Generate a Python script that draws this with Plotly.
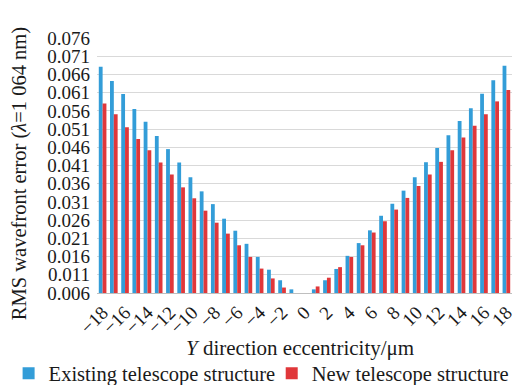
import plotly.graph_objects as go

eccentricity = list(range(-18, 19))
existing = [0.0681, 0.0642, 0.0606, 0.0565, 0.0530, 0.0491, 0.0455, 0.0418, 0.0378,
            0.0339, 0.0304, 0.0264, 0.0231, 0.0195, 0.0159, 0.0124, 0.0095, 0.0070,
            0.0060,
            0.0070, 0.0095, 0.0126, 0.0162, 0.0197, 0.0232, 0.0272, 0.0305, 0.0341,
            0.0378, 0.0419, 0.0458, 0.0493, 0.0532, 0.0567, 0.0607, 0.0644, 0.0684]
new = [0.0580, 0.0551, 0.0515, 0.0483, 0.0452, 0.0418, 0.0385, 0.0350, 0.0320,
       0.0286, 0.0253, 0.0223, 0.0191, 0.0159, 0.0127, 0.0100, 0.0075, 0.0060,
       0.0060,
       0.0078, 0.0102, 0.0131, 0.0159, 0.0191, 0.0226, 0.0257, 0.0289, 0.0321,
       0.0354, 0.0385, 0.0420, 0.0452, 0.0487, 0.0519, 0.0551, 0.0586, 0.0617]

x_tickvals = list(range(-18, 19, 2))
x_ticktext = [("\u2212" + str(-v)) if v < 0 else str(v) for v in x_tickvals]
y_tickvals = [0.006, 0.011, 0.016, 0.021, 0.026, 0.031, 0.036, 0.041, 0.046,
              0.051, 0.056, 0.061, 0.066, 0.071, 0.076]
y_ticktext = ["%.3f" % v for v in y_tickvals]

FONT = "Liberation Serif, Times New Roman, serif"
BLUE = "#339dd8"
RED = "#e0373a"
TXT = "#1a1a1a"

fig = go.Figure()
fig.add_trace(go.Bar(x=eccentricity, y=existing, name="Existing telescope structure",
                     marker=dict(color=BLUE, line=dict(width=0)), legend="legend"))
fig.add_trace(go.Bar(x=eccentricity, y=new, name="New telescope structure",
                     marker=dict(color=RED, line=dict(width=0)), legend="legend2"))

legend_common = dict(orientation="h", xanchor="left", y=-0.315, yanchor="middle",
                     font=dict(family=FONT, size=20.5, color=TXT),
                     bgcolor="rgba(0,0,0,0)", itemwidth=30, borderwidth=0)

# page body adds an 8px offset, so the figure is 8px smaller than the window
fig.update_layout(
    width=513, height=377,
    margin=dict(l=89, r=9, t=30, b=92, autoexpand=False),
    paper_bgcolor="white", plot_bgcolor="white",
    barmode="group", bargap=0.32, bargroupgap=0,
    font=dict(family=FONT, size=19, color=TXT),
    showlegend=True,
    legend=dict(x=-0.213, **legend_common),
    legend2=dict(x=0.421, **legend_common),
    xaxis=dict(range=[-18.5, 18.5], tickmode="array", tickvals=x_tickvals,
               ticktext=x_ticktext, tickangle=-45, showgrid=False, zeroline=False,
               showline=True, linecolor="#bfbfbf", linewidth=1, ticks="",
               tickfont=dict(family=FONT, size=19, color=TXT)),
    yaxis=dict(range=[0.006, 0.076], tickmode="array", tickvals=y_tickvals,
               ticktext=y_ticktext, showgrid=True, gridcolor="#d9d9d9", gridwidth=1,
               zeroline=False, showline=False, ticks="", ticklabelstandoff=6,
               tickfont=dict(family=FONT, size=19, color=TXT)),
    annotations=[
        dict(text="<i>Y</i> direction eccentricity/\u03bcm", xref="paper", yref="paper",
             x=0.49, y=-0.215, xanchor="center", yanchor="middle", showarrow=False,
             font=dict(family=FONT, size=21, color=TXT)),
        dict(text="RMS wavefront error (<i>\u03bb</i>=1 064 nm)", xref="paper", yref="paper",
             x=-0.188, y=0.47, xanchor="center", yanchor="middle", textangle=-90,
             showarrow=False, font=dict(family=FONT, size=20.5, color=TXT)),
    ],
)

fig.write_html("out.html")
